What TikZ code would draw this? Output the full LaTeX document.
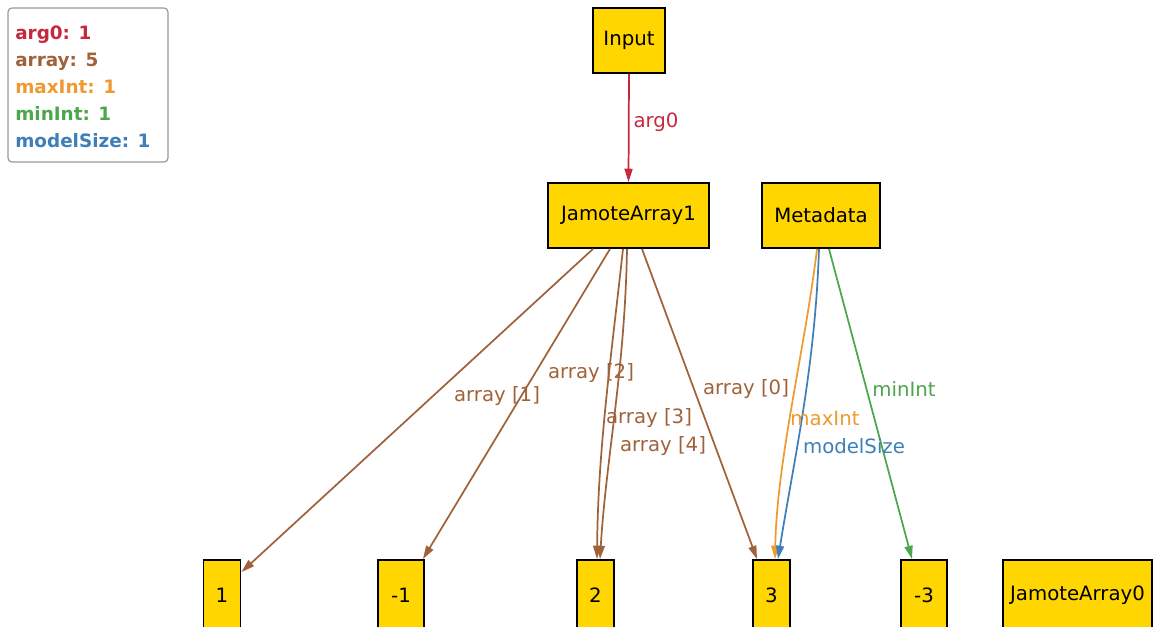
\documentclass[tikz,border=0pt]{standalone}
\usepackage{fontspec}
\setmainfont{DejaVu Sans}
\usetikzlibrary{arrows.meta,calc}

\definecolor{boxfill}{HTML}{FFD600}
\definecolor{cArg}{HTML}{C8283C}
\definecolor{cArr}{HTML}{A0623A}
\definecolor{cMax}{HTML}{EE9A30}
\definecolor{cMin}{HTML}{4CA64C}
\definecolor{cSize}{HTML}{3F7FB8}

\tikzset{
  obj/.style={draw=black, line width=1.4pt, fill=boxfill, inner sep=0pt,
    minimum height=48.75pt, font=\fontsize{14.8pt}{17pt}\selectfont},
  edgelbl/.style={inner sep=0pt, font=\fontsize{14.8pt}{17pt}\selectfont},
  link/.style={line width=1.3pt, -{Triangle[length=10pt,width=6pt]}},
  legtxt/.style={anchor=base west, inner sep=0pt, font=\bfseries\fontsize{13.8pt}{16pt}\selectfont},
}

\begin{document}
\begin{tikzpicture}[x=0.75pt, y=-0.75pt]
\useasboundingbox (0,0) rectangle (1154,626);
\clip (0,0) rectangle (1154,626);

% legend
\node[draw=gray!80, line width=0.9pt, rounded corners=3pt, fill=white,
      minimum width=120pt, minimum height=115.5pt] (legend) at (88,85) {};
\node[legtxt, text=cArg]  (lg1) at (15,39)  {arg0: 1};
\node[legtxt, text=cArr]  (lg2) at (15,66)  {array: 5};
\node[legtxt, text=cMax]  (lg3) at (15,93)  {maxInt: 1};
\node[legtxt, text=cMin]  (lg4) at (15,120) {minInt: 1};
\node[legtxt, text=cSize] (lg5) at (15,147) {modelSize: 1};

% objects
\node[obj, minimum width=54pt]     (in)   at (629,40.5)  {Input};
\node[obj, minimum width=120.75pt] (ja1)  at (628.5,215.5) {JamoteArray1};
\node[obj, minimum width=88.5pt]   (meta) at (821,215.5) {Metadata};

\node[obj, minimum width=27.75pt, minimum height=52.5pt] (n1)  at (222,595)    {1};
\node[obj, minimum width=34.5pt,  minimum height=52.5pt] (nm1) at (401,595)    {-1};
\node[obj, minimum width=27.75pt, minimum height=52.5pt] (n2)  at (595.5,595)  {2};
\node[obj, minimum width=27.75pt, minimum height=52.5pt] (n3)  at (771.5,595)  {3};
\node[obj, minimum width=34.5pt,  minimum height=52.5pt] (nm3) at (924,595)    {-3};
\node[obj, minimum width=111.75pt,minimum height=52.5pt] (ja0) at (1077.5,595) {JamoteArray0};

% connectors
\draw[link, cArg] (in.south) -- (ja1.north);

\draw[link, cArr] ($(ja1.south)+(-35.5,0)$) -- ($(n1.north east)+(0,13)$);
\draw[link, cArr] ($(ja1.south)+(-18.5,0)$) -- ($(nm1.north east)+(-2,0)$);
\draw[link, cArr] ($(ja1.south)+(-5.5,0)$) .. controls +(-12,110) and +(1,-110) .. ($(n2.north)+(1.5,0)$);
\draw[link, cArr] ($(ja1.south)+(-1.5,0)$) .. controls +(-2,120) and +(6,-100) .. ($(n2.north)+(4.5,0)$);
\draw[link, cArr] ($(ja1.south)+(13.5,0)$) -- ($(n3.north)+(-14.5,0)$);

\draw[link, cMax]  ($(meta.south)+(-4,0)$) .. controls +(-12,100) and +(2,-100) .. ($(n3.north)+(3.5,0)$);
\draw[link, cSize] ($(meta.south)+(-2,0)$) .. controls +(-4,120) and +(16,-100) .. ($(n3.north)+(6.5,0)$);
\draw[link, cMin]  ($(meta.south)+(8,0)$) -- ($(nm3.north)+(-12,0)$);

% connector labels
\node[edgelbl, text=cArg]  (l0)  at (656,122) {arg0};
\node[edgelbl, text=cArr]  (la1) at (497,396) {array [1]};
\node[edgelbl, text=cArr]  (la2) at (591,373) {array [2]};
\node[edgelbl, text=cArr]  (la3) at (649,418) {array [3]};
\node[edgelbl, text=cArr]  (la4) at (663,446) {array [4]};
\node[edgelbl, text=cArr]  (la0) at (746,389) {array [0]};
\node[edgelbl, text=cMax]  (lmx) at (825,418) {maxInt};
\node[edgelbl, text=cSize] (lms) at (854,446) {modelSize};
\node[edgelbl, text=cMin]  (lmi) at (904,389) {minInt};
\end{tikzpicture}
\end{document}
